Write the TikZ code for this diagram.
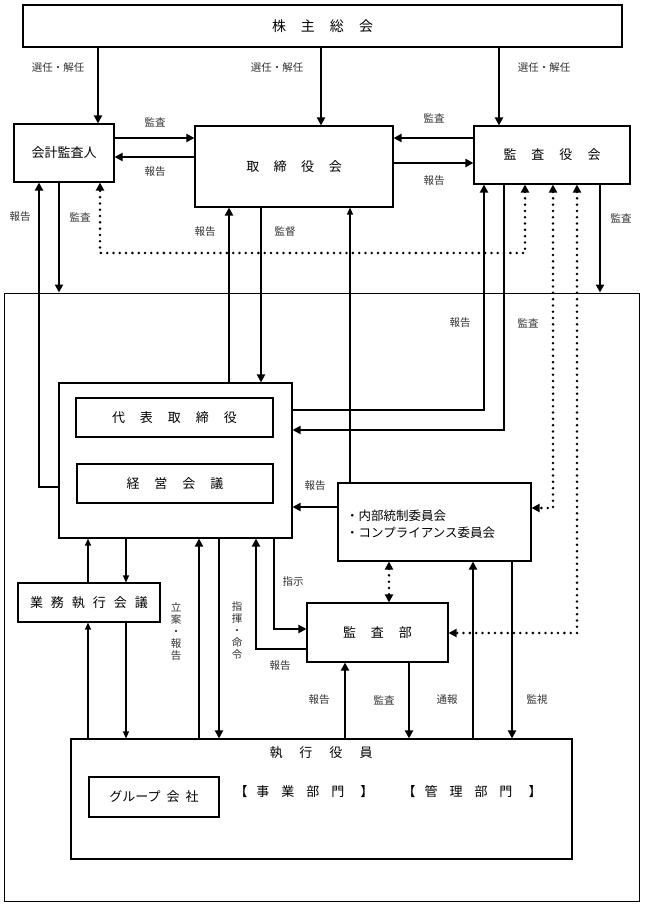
\documentclass[tikz,border=0pt]{standalone}
\usepackage{fontspec}
\setmainfont{Noto Sans CJK JP}
\usetikzlibrary{arrows.meta}
\newcommand{\gp}[1]{\hspace{#1pt}}
\begin{document}
\begin{tikzpicture}[x=1pt,y=-1pt,
  box/.style={draw, line width=1.1pt, inner sep=0pt, font=\fontsize{13}{15}\selectfont},
  lbl/.style={font=\fontsize{10.5}{12}\selectfont, text=black!80, inner sep=0pt},
  tipT/.tip={Triangle[length=8pt,width=8pt]},
  tipt/.tip={Triangle[length=7pt,width=6pt]},
  thk/.style={line width=2.6pt, -tipT},
  med/.style={line width=1.9pt, -tipT},
  thn/.style={line width=1.2pt, -tipt},
  dots/.style={line width=2.8pt, line cap=round, dash pattern=on 0pt off 6.3pt, tipT-tipT}
]
\useasboundingbox (0,0) rectangle (648,912);
\fill[white] (0,0) rectangle (648,912);

% outer frame
\node[draw, line width=1pt, minimum width=635pt, minimum height=608pt, inner sep=0pt] (outer) at (321.5,597) {};

% boxes
\node[box, minimum width=599pt, minimum height=42pt, font=\fontsize{14}{16}\selectfont] (soukai) at (322.5,26) {株\gp{15}主\gp{15}総\gp{15}会};
\node[box, minimum width=100pt, minimum height=58pt] (kaikei) at (64,153) {会計監査人};
\node[box, minimum width=198pt, minimum height=81pt] (tori) at (294,166.5) {取\gp{14.5}締\gp{14.5}役\gp{14.5}会};
\node[box, minimum width=156pt, minimum height=58pt] (kansayaku) at (552,155) {監\gp{15}査\gp{15}役\gp{15}会};
\node[box, minimum width=233pt, minimum height=155pt] (daihyoO) at (175.5,460.5) {};
\node[box, minimum width=197pt, minimum height=39pt] (daihyo) at (174.5,417.5) {代\gp{15}表\gp{15}取\gp{15}締\gp{15}役};
\node[box, minimum width=196pt, minimum height=39pt] (keiei) at (175,483.5) {経\gp{15}営\gp{15}会\gp{15}議};
\node[box, minimum width=193pt, minimum height=78pt] (naibu) at (434.5,522) {};
\node[anchor=west, inner sep=0pt, font=\fontsize{12.5}{17}\selectfont, align=left] (naibuT) at (346,524.5) {・内部統制委員会\\・コンプライアンス委員会};
\node[box, minimum width=141pt, minimum height=59pt] (kansabu) at (377.5,632.5) {監\gp{15}査\gp{15}部};
\node[box, minimum width=142pt, minimum height=39pt] (gyomu) at (89,602.5) {業\gp{8}務\gp{8}執\gp{8}行\gp{8}会\gp{8}議};
\node[box, minimum width=501pt, minimum height=120pt] (shikko) at (321.5,799) {};
\node[inner sep=0pt, font=\fontsize{13}{15}\selectfont] (shikkoT) at (321,753) {執\gp{17}行\gp{17}役\gp{17}員};
\node[box, minimum width=130pt, minimum height=40pt] (group) at (154,797) {グループ\gp{6}会\gp{6}社};
\node[inner sep=0pt, font=\fontsize{13}{15}\selectfont] (jigyo) at (304,792) {【\gp{9}事\gp{12}業\gp{12}部\gp{12}門\gp{16}】};
\node[inner sep=0pt, font=\fontsize{13}{15}\selectfont] (kanri) at (472,792) {【\gp{9}管\gp{12}理\gp{12}部\gp{12}門\gp{16}】};

% shareholders meeting arrows
\draw[thk] (soukai.south -| 98,0) -- (kaikei.north -| 98,0);
\draw[thk] (soukai.south -| 321,0) -- (tori.north -| 321,0);
\draw[thk] (soukai.south -| 499,0) -- (kansayaku.north -| 499,0);
\node[lbl] (l1) at (58,68) {選任・解任};
\node[lbl] (l2) at (277,68) {選任・解任};
\node[lbl] (l3) at (544,68) {選任・解任};

% auditor <-> board
\draw[thk] (kaikei.east |- 0,138) -- (tori.west |- 0,138);
\draw[thk] (tori.west |- 0,157) -- (kaikei.east |- 0,157);
\node[lbl] (l4) at (155,122) {監査};
\node[lbl] (l5) at (155,172) {報告};
% board <-> audit board
\draw[thk] (kansayaku.west |- 0,138) -- (tori.east |- 0,138);
\draw[thk] (tori.east |- 0,163) -- (kansayaku.west |- 0,163);
\node[lbl] (l6) at (434,118) {監査};
\node[lbl] (l7) at (434,181) {報告};

% accounting auditor verticals
\draw[thk] (daihyoO.west |- 0,487) -| (kaikei.south -| 39,0);
\draw[thk] (kaikei.south -| 59,0) -- (outer.north -| 59,0);
\node[lbl] (l8) at (20,217) {報告};
\node[lbl] (l9) at (80,217) {監査};
\draw[dots] (kansayaku.south -| 525,0) |- (100,253) -- (kaikei.south -| 100,0);

% board <-> representative
\draw[thk] (daihyoO.north -| 229,0) -- (tori.south -| 229,0);
\draw[thk] (tori.south -| 261,0) -- (daihyoO.north -| 261,0);
\node[lbl] (l10) at (205,232) {報告};
\node[lbl] (l11) at (285,232) {監督};
\draw[thn] (naibu.north -| 350,0) -- (tori.south -| 350,0);

% audit board verticals
\draw[thk] (daihyoO.east |- 0,410) -| (kansayaku.south -| 484,0);
\draw[thk] (kansayaku.south -| 504,0) |- (daihyoO.east |- 0,430);
\node[lbl] (l12) at (460,323) {報告};
\node[lbl] (l13) at (528,323) {監査};
\draw[dots] (kansayaku.south -| 553,0) |- (naibu.east |- 0,508);
\draw[dots] (kansayaku.south -| 577,0) |- (kansabu.east |- 0,633);
\draw[thk] (kansayaku.south -| 600,0) -- (outer.north -| 600,0);
\node[lbl] (l14) at (621,218) {監査};

% committee
\draw[thk] (naibu.west |- 0,507) -- (daihyoO.east |- 0,507);
\node[lbl] (l15) at (315,486) {報告};
\draw[dots] (naibu.south -| 389,0) -- (kansabu.north -| 389,0);

% gyomu
\draw[thn] (gyomu.north -| 88,0) -- (daihyoO.south -| 88,0);
\draw[thn] (daihyoO.south -| 126,0) -- (gyomu.north -| 126,0);
\draw[thn] (shikko.north -| 88,0) -- (gyomu.south -| 88,0);
\draw[thn] (gyomu.south -| 126,0) -- (shikko.north -| 126,0);

% representative <-> executive
\draw[thk] (shikko.north -| 199,0) -- (daihyoO.south -| 199,0);
\draw[thk] (daihyoO.south -| 219,0) -- (shikko.north -| 219,0);
\node[lbl, align=center] (l16) at (176,632) {立\\案\\・\\報\\告};
\node[lbl, align=center] (l17) at (237,631) {指\\揮\\・\\命\\令};

% representative <-> audit dept
\draw[thk] (kansabu.west |- 0,649) -| (daihyoO.south -| 256,0);
\draw[thk] (daihyoO.south -| 274,0) |- (kansabu.west |- 0,629);
\node[lbl] (l18) at (293,582) {指示};
\node[lbl] (l19) at (280,666) {報告};

% audit dept / committee <-> executive
\draw[thk] (shikko.north -| 345,0) -- (kansabu.south -| 345,0);
\draw[med] (kansabu.south -| 409,0) -- (shikko.north -| 409,0);
\draw[med] (shikko.north -| 473,0) -- (naibu.south -| 473,0);
\draw[med] (naibu.south -| 512,0) -- (shikko.north -| 512,0);
\node[lbl] (l20) at (319,700) {報告};
\node[lbl] (l21) at (384,700) {監査};
\node[lbl] (l22) at (447,700) {通報};
\node[lbl] (l23) at (537,700) {監視};
\end{tikzpicture}
\end{document}
